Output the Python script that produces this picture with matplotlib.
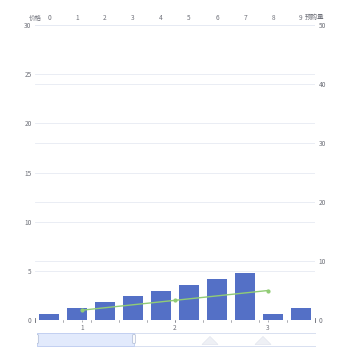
import matplotlib
matplotlib.use("Agg")
import matplotlib.pyplot as plt
from matplotlib.patches import Rectangle, FancyBboxPatch, Polygon

plt.rcParams['font.family'] = ['Noto Sans CJK SC', 'DejaVu Sans']

# ----------------------------------
# data
# ----------------------------------
categories = ['0', '1', '2', '3', '4', '5', '6', '7', '8', '9']
order_volume = [1, 2, 3, 4, 5, 6, 7, 8, 1, 2]      # bars, right axis (预购量)
price_x = [1, 2, 3]                                 # line, bottom value axis
price_y = [1, 2, 3]                                 # line, left axis (价格)
left_ticks = [0, 5, 10, 15, 20, 25, 30]
right_ticks = [0, 10, 20, 30, 40, 50]
bottom_ticks = [1, 2, 3]

# ----------------------------------
# styles
# ----------------------------------
BAR = '#5470c6'
LINE = '#91cc75'
TXT = '#6e7079'
GRID = '#e6eaf3'
FS = 4.7

fig = plt.figure(figsize=(3.5, 3.5), dpi=100)
rect = [35 / 350, 30 / 350, 280 / 350, 295 / 350]

# bars: top category axis + right value axis
ax = fig.add_axes(rect)
ax.set_xlim(-0.5, 9.5)
ax.set_ylim(0, 50)
ax.bar(range(len(categories)), order_volume, width=0.68, color=BAR, zorder=3)
ax.xaxis.tick_top()
ax.set_xticks(range(len(categories)))
ax.set_xticklabels(categories)
ax.yaxis.tick_right()
ax.set_yticks(right_ticks)
ax.tick_params(axis='x', length=0, pad=2.2, labelsize=FS, labelcolor=TXT)
ax.tick_params(axis='y', length=0, pad=2.5, labelsize=FS, labelcolor=TXT)
ax.grid(axis='y', color=GRID, linewidth=0.6, zorder=0)
for s in ax.spines.values():
    s.set_visible(False)
ax.text(1.0, 1.012, '预购量', transform=ax.transAxes, ha='center', va='bottom',
        fontsize=FS, color=TXT)

# category boundary ticks along the bottom line
for i in range(len(categories) + 1):
    ax.plot([i - 0.5, i - 0.5], [0, -0.35], color=TXT, linewidth=0.4,
            clip_on=False, zorder=4)

# line: bottom value axis + left value axis
ax2 = fig.add_axes(rect, frameon=False)
ax2.set_xlim(0.495, 3.505)
ax2.set_ylim(0, 30)
ax2.plot(price_x, price_y, color=LINE, linewidth=1.0, marker='o',
         markersize=2.0, zorder=5)
ax2.set_xticks(bottom_ticks)
ax2.set_yticks(left_ticks)
ax2.tick_params(axis='x', length=1.5, width=0.4, color=TXT, pad=1.5,
                labelsize=FS, labelcolor=TXT)
ax2.tick_params(axis='y', length=0, pad=2.5, labelsize=FS, labelcolor=TXT)
ax2.grid(axis='y', color=GRID, linewidth=0.6)
ax2.set_axisbelow(True)
for k in ('top', 'right', 'left'):
    ax2.spines[k].set_visible(False)
ax2.spines['bottom'].set_visible(True)
ax2.spines['bottom'].set_color(TXT)
ax2.spines['bottom'].set_linewidth(0.6)
for xe in (0.495, 3.505):
    ax2.plot([xe, xe], [-0.25, 0.25], color=TXT, linewidth=0.6, clip_on=False)
ax2.text(0.0, 1.012, '价格', transform=ax2.transAxes, ha='center', va='bottom',
         fontsize=FS, color=TXT)

# data zoom slider (decoration)
sl = fig.add_axes([37 / 350, 3 / 350, 279 / 350, 15 / 350])
sl.set_xlim(0, 279)
sl.set_ylim(0, 15)
sl.axis('off')
sl.add_patch(Rectangle((0, 1.5), 279, 13, facecolor='white', edgecolor='#d2dbee',
                       linewidth=0.6))
for px in (173, 226):
    sl.add_patch(Polygon([[px - 8, 2.5], [px, 10.5], [px + 8, 2.5]], closed=True,
                         facecolor='#eef0f5', edgecolor='#e2e5ee', linewidth=0.5))
sl.add_patch(Rectangle((0, 1.5), 97, 13, facecolor='#dfe8fc', edgecolor='#bccbf0',
                       linewidth=0.6, alpha=0.9))
for hx in (0, 97):
    sl.add_patch(FancyBboxPatch((hx - 1.0, 4), 2.0, 8, boxstyle='round,pad=0.3',
                                facecolor='white', edgecolor='#acb8d1', linewidth=0.5))

fig.savefig('out.png', dpi=100)
